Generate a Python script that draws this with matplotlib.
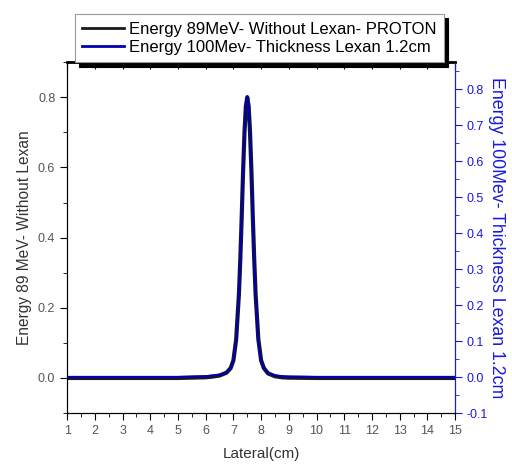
import matplotlib
matplotlib.use('Agg')
import matplotlib.pyplot as plt
from matplotlib.ticker import MultipleLocator, FormatStrFormatter

plt.rcParams['font.family'] = ['Liberation Sans', 'DejaVu Sans']

# 数据
lateral = [1, 2, 3, 4, 5, 5.5, 6, 6.25, 6.5, 6.75, 6.9, 7.0, 7.1, 7.2, 7.25, 7.3, 7.35,
           7.4, 7.45, 7.5, 7.55, 7.6, 7.65, 7.7, 7.75, 7.8, 7.9, 8.0, 8.1, 8.25, 8.5,
           8.75, 9, 10, 11, 12, 13, 14, 15]
energy_89 = [0, 0, 0, 0, 0, 0.001, 0.002, 0.004, 0.007, 0.015, 0.028, 0.05, 0.11,
             0.24, 0.34, 0.46, 0.59, 0.70, 0.775, 0.80, 0.775, 0.70, 0.59, 0.46, 0.34,
             0.24, 0.11, 0.05, 0.028, 0.013, 0.005, 0.002, 0.001, 0, 0, 0, 0, 0, 0]
energy_100 = [0, 0, 0, 0, 0, 0.001, 0.002, 0.004, 0.006, 0.013, 0.025, 0.046, 0.10,
              0.23, 0.33, 0.45, 0.58, 0.68, 0.755, 0.78, 0.755, 0.68, 0.58, 0.45, 0.33,
              0.23, 0.10, 0.046, 0.025, 0.011, 0.004, 0.002, 0.001, 0, 0, 0, 0, 0, 0]

blue = '#1a1adb'

fig = plt.figure(figsize=(5.12, 4.71), dpi=100)
ax = fig.add_axes([0.131, 0.123, 0.758, 0.745])
ax2 = ax.twinx()

l1, = ax.plot(lateral, energy_89, color='#1a1a1a', linewidth=3.0, zorder=2)
l2, = ax2.plot(lateral, energy_100, color='#0000b0', linewidth=1.6, zorder=3)

ax.set_xlim(1, 15)
ax.set_ylim(-0.1, 0.9)
ax2.set_ylim(-0.1, 0.875)

ax.xaxis.set_major_locator(MultipleLocator(1))
ax.xaxis.set_minor_locator(MultipleLocator(0.5))
ax.yaxis.set_major_locator(MultipleLocator(0.2))
ax.yaxis.set_minor_locator(MultipleLocator(0.1))
ax2.yaxis.set_major_locator(MultipleLocator(0.1))
ax2.yaxis.set_minor_locator(MultipleLocator(0.05))
ax.yaxis.set_major_formatter(FormatStrFormatter('%.1f'))
ax2.yaxis.set_major_formatter(FormatStrFormatter('%.1f'))

ax.tick_params(axis='x', which='major', direction='out', length=5, labelsize=9,
               labelcolor='#555555')
ax.tick_params(axis='x', which='minor', direction='out', length=3)
ax.tick_params(axis='y', which='major', direction='out', length=5, labelsize=9,
               labelcolor='#555555')
ax.tick_params(axis='y', which='minor', direction='out', length=3)
ax2.tick_params(axis='y', which='major', direction='out', length=5, labelsize=9,
                colors=blue)
ax2.tick_params(axis='y', which='minor', direction='out', length=3, colors=blue)

# 顶部刻度朝内
top = ax.secondary_xaxis('top')
top.xaxis.set_major_locator(MultipleLocator(1))
top.xaxis.set_minor_locator(MultipleLocator(0.5))
top.tick_params(which='major', direction='in', length=5, labeltop=False)
top.tick_params(which='minor', direction='in', length=3)
top.spines['top'].set_linewidth(2)

ax2.spines['right'].set_color(blue)

ax.set_xlabel('Lateral(cm)', fontsize=11, color='#333333', labelpad=7)
ax.set_ylabel('Energy 89 MeV- Without Lexan', fontsize=11.2, color='#333333', labelpad=4)
ax2.set_ylabel('Energy 100Mev- Thickness Lexan 1.2cm', fontsize=12.8, color=blue,
               rotation=270, labelpad=12)

leg = fig.legend([l1, l2],
                 ['Energy 89MeV- Without Lexan- PROTON',
                  'Energy 100Mev- Thickness Lexan 1.2cm'],
                 loc='upper left', bbox_to_anchor=(0.146, 0.97), fontsize=12,
                 frameon=True, fancybox=False, handlelength=2.5, handletextpad=0.3,
                 borderpad=0.45, labelspacing=0.2, borderaxespad=0,
                 shadow={'color': 'black', 'alpha': 1.0, 'ox': 3, 'oy': -3})
leg.get_frame().set_edgecolor('#999999')
leg.get_frame().set_linewidth(0.8)
for h in leg.get_lines():
    h.set_linewidth(2.0)

fig.savefig('out.png', dpi=100, facecolor='white')
